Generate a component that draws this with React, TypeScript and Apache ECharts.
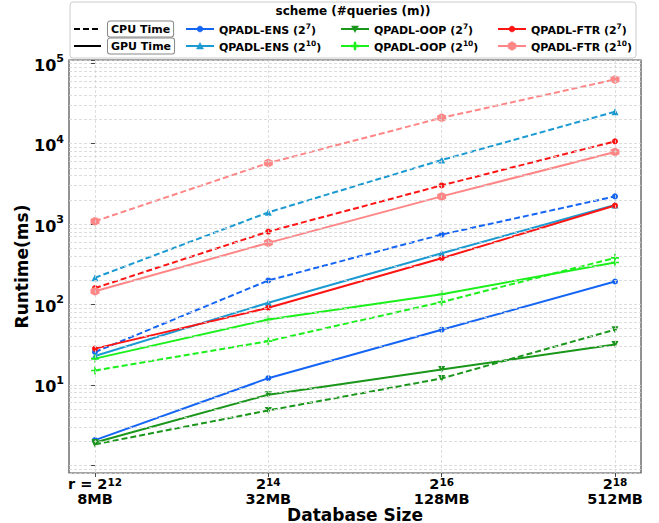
import React, { useEffect, useRef } from 'react';
import * as echarts from 'echarts';

const FONT = 'DejaVu Sans';

// x categories
const sizeLabels = ['8MB', '32MB', '128MB', '512MB'];
const rowExps = [12, 14, 16, 18];
const xPos = [0, 1, 2, 3];

// schemes
const schemeNames = ['QPADL-ENS', 'QPADL-ENS', 'QPADL-OOP', 'QPADL-OOP', 'QPADL-FTR', 'QPADL-FTR'];
const queryExps = [7, 10, 7, 10, 7, 10];
const schemeColors = ['#1565f5', '#1b9ad2', '#1a961a', '#1cf01c', '#ff1414', '#ff8686'];
const schemeMarkers = ['circle', 'triangle', 'down', 'plus', 'circle', 'hexagon'];

// CPU time (dashed)
const cpuEns7 = [25.6, 199, 741, 2210];
const cpuEns10 = [215, 1400, 6270, 25000];
const cpuOop7 = [1.82, 4.8, 12, 48.6];
const cpuOop10 = [15.1, 35, 107, 380];
const cpuFtr7 = [160, 807, 3030, 10700];
const cpuFtr10 = [1085, 5750, 21000, 63000];

// GPU time (solid)
const gpuEns7 = [2.05, 12.1, 48.5, 193];
const gpuEns10 = [22.8, 105, 434, 1730];
const gpuOop7 = [1.92, 7.55, 15.5, 31.8];
const gpuOop10 = [21.2, 65, 134, 333];
const gpuFtr7 = [28.2, 91, 376, 1700];
const gpuFtr10 = [146, 584, 2210, 7890];

const cpuAll = [cpuEns7, cpuEns10, cpuOop7, cpuOop10, cpuFtr7, cpuFtr10];
const gpuAll = [gpuEns7, gpuEns10, gpuOop7, gpuOop10, gpuFtr7, gpuFtr10];

const symbolFor = (m: string): any => {
  switch (m) {
    case 'circle':
      return { symbol: 'circle', symbolSize: 6 };
    case 'triangle':
      return { symbol: 'triangle', symbolSize: 7 };
    case 'down':
      return { symbol: 'triangle', symbolSize: 7, symbolRotate: 180 };
    case 'plus':
      return { symbol: 'path://M-1,-5 L1,-5 L1,-1 L5,-1 L5,1 L1,1 L1,5 L-1,5 L-1,1 L-5,1 L-5,-1 L-1,-1 Z', symbolSize: 8 };
    case 'hexagon':
      return { symbol: 'path://M0,-1 L0.866,-0.5 L0.866,0.5 L0,1 L-0.866,0.5 L-0.866,-0.5 Z', symbolSize: 9 };
  }
  return { symbol: 'circle', symbolSize: 6 };
};

const legendMarker = (m: string, cx: number, cy: number, color: string): any => {
  const style = { fill: color, stroke: color, lineWidth: 0.5 };
  switch (m) {
    case 'circle':
      return { type: 'circle', shape: { cx, cy, r: 3 }, style };
    case 'triangle':
      return { type: 'polygon', shape: { points: [[cx, cy - 3.5], [cx + 3.5, cy + 3], [cx - 3.5, cy + 3]] }, style };
    case 'down':
      return { type: 'polygon', shape: { points: [[cx, cy + 3.5], [cx + 3.5, cy - 3], [cx - 3.5, cy - 3]] }, style };
    case 'plus':
      return {
        type: 'polygon',
        shape: {
          points: [[cx - 1, cy - 4], [cx + 1, cy - 4], [cx + 1, cy - 1], [cx + 4, cy - 1], [cx + 4, cy + 1], [cx + 1, cy + 1], [cx + 1, cy + 4], [cx - 1, cy + 4], [cx - 1, cy + 1], [cx - 4, cy + 1], [cx - 4, cy - 1], [cx - 1, cy - 1]],
        },
        style,
      };
    case 'hexagon':
      return {
        type: 'polygon',
        shape: { points: [[cx, cy - 4.5], [cx + 3.9, cy - 2.25], [cx + 3.9, cy + 2.25], [cx, cy + 4.5], [cx - 3.9, cy + 2.25], [cx - 3.9, cy - 2.25]] },
        style,
      };
  }
  return { type: 'circle', shape: { cx, cy, r: 3 }, style };
};

export default function App() {
  const ref = useRef<HTMLDivElement>(null);
  useEffect(() => {
    if (!ref.current) return;
    const chart = echarts.init(ref.current, null, { renderer: 'svg' });

    const gridColor = '#d4d4d4';
    const minorVals: number[] = [0.9];
    for (let k = 0; k <= 4; k++) for (let m = 2; m <= 9; m++) minorVals.push(m * Math.pow(10, k));

    const series: any[] = [];
    for (let i = 0; i < schemeNames.length; i++) {
      const sym = symbolFor(schemeMarkers[i]);
      series.push({
        type: 'line',
        name: `${schemeNames[i]} (2^${queryExps[i]}) CPU`,
        data: xPos.map((x, j) => [x, cpuAll[i][j]]),
        ...sym,
        itemStyle: { color: schemeColors[i] },
        lineStyle: { color: schemeColors[i], width: 2, type: [6, 3] },
        z: 3,
      });
      series.push({
        type: 'line',
        name: `${schemeNames[i]} (2^${queryExps[i]}) GPU`,
        data: xPos.map((x, j) => [x, gpuAll[i][j]]),
        ...sym,
        itemStyle: { color: schemeColors[i] },
        lineStyle: { color: schemeColors[i], width: 2, type: 'solid' },
        z: 3,
      });
    }
    series.push({
      type: 'line',
      name: 'grid',
      data: [],
      silent: true,
      z: 1,
      markLine: {
        silent: true,
        symbol: ['none', 'none'],
        label: { show: false },
        lineStyle: { color: gridColor, type: [3, 2], width: 0.8 },
        data: [...minorVals.map((v) => ({ yAxis: v })), ...xPos.map((x) => ({ xAxis: x }))],
      },
    });

    const graphics: any[] = [];
    graphics.push({
      type: 'rect',
      z: 100,
      shape: { x: 70, y: 2, width: 566, height: 56, r: 3 },
      style: { fill: 'rgba(255,255,255,0.85)', stroke: '#cccccc', lineWidth: 1 },
    });
    graphics.push({
      type: 'text',
      z: 101,
      x: 353,
      y: 11,
      style: { text: 'scheme (#queries (m))', font: `bold 12px "${FONT}"`, fill: '#000', align: 'center', verticalAlign: 'middle' },
    });
    const rowY = [29, 46];
    // CPU / GPU
    graphics.push({ type: 'line', z: 101, shape: { x1: 74, y1: rowY[0], x2: 101, y2: rowY[0] }, style: { stroke: '#000', lineWidth: 2, lineDash: [6, 3] } });
    graphics.push({ type: 'line', z: 101, shape: { x1: 74, y1: rowY[1], x2: 101, y2: rowY[1] }, style: { stroke: '#000', lineWidth: 2 } });
    ['CPU Time', 'GPU Time'].forEach((t, r) => {
      graphics.push({
        type: 'text',
        z: 101,
        x: 108,
        y: rowY[r],
        style: {
          text: t,
          font: `bold 11px "${FONT}"`,
          fill: '#000',
          align: 'left',
          verticalAlign: 'middle',
          padding: [2, 3, 2, 3],
          borderColor: '#888',
          borderWidth: 1,
          borderRadius: 2,
          backgroundColor: '#fff',
        },
      });
    });
    const colX = [186, 341, 498];
    for (let i = 0; i < schemeNames.length; i++) {
      const c = Math.floor(i / 2);
      const r = i % 2;
      const x0 = colX[c];
      const y = rowY[r];
      graphics.push({ type: 'line', z: 101, shape: { x1: x0, y1: y, x2: x0 + 28, y2: y }, style: { stroke: schemeColors[i], lineWidth: 2 } });
      graphics.push({ ...legendMarker(schemeMarkers[i], x0 + 14, y, schemeColors[i]), z: 102 });
      graphics.push({
        type: 'text',
        z: 101,
        x: x0 + 33,
        y,
        style: {
          text: `{b|${schemeNames[i]} (2}{s|${queryExps[i]}}{b|)}`,
          rich: {
            b: { font: `bold 11px "${FONT}"`, fill: '#000', lineHeight: 14, verticalAlign: 'bottom' },
            s: { font: `bold 7.5px "${FONT}"`, fill: '#000', lineHeight: 14, verticalAlign: 'top' },
          },
          align: 'left',
          verticalAlign: 'middle',
        },
      });
    }

    chart.setOption({
      animation: false,
      backgroundColor: '#fff',
      textStyle: { fontFamily: FONT },
      grid: {
        left: 69,
        right: 18,
        top: 60,
        bottom: 50,
        containLabel: false,
        outerBoundsMode: 'none',
        show: true,
        borderColor: '#4a4a4a',
        borderWidth: 1.2,
        backgroundColor: 'transparent',
      },
      xAxis: {
        type: 'value',
        min: -0.15,
        max: 3.15,
        name: 'Database Size',
        nameLocation: 'middle',
        nameGap: 33,
        nameMoveOverlap: false,
        nameTextStyle: { fontFamily: FONT, fontWeight: 'bold', fontSize: 17, color: '#000', verticalAlign: 'top', lineHeight: 17 },
        axisLine: { show: false },
        splitLine: { show: false },
        axisTick: { show: true, customValues: xPos, length: 4, lineStyle: { color: '#4a4a4a' } },
        axisLabel: {
          customValues: xPos,
          margin: 3,
          formatter: (v: number) => {
            const i = Math.round(v);
            const pre = i === 0 ? 'r = 2' : '2';
            return `{b|${pre}}{s|${rowExps[i]}}\n{b|${sizeLabels[i]}}`;
          },
          rich: {
            b: { fontFamily: FONT, fontWeight: 'bold', fontSize: 14.5, color: '#000', lineHeight: 15, verticalAlign: 'bottom' },
            s: { fontFamily: FONT, fontWeight: 'bold', fontSize: 10.5, color: '#000', lineHeight: 7, verticalAlign: 'top' },
          },
        },
      },
      yAxis: {
        type: 'log',
        logBase: 10,
        min: 0.8,
        max: 110000,
        name: 'Runtime(ms)',
        nameLocation: 'middle',
        nameGap: 39,
        nameMoveOverlap: false,
        nameRotate: 90,
        nameTextStyle: { fontFamily: FONT, fontWeight: 'bold', fontSize: 17, color: '#000' },
        axisLine: { show: false },
        axisTick: { show: true, length: 4, lineStyle: { color: '#4a4a4a' } },
        splitLine: { show: true, lineStyle: { color: gridColor, type: [3, 2], width: 0.8 } },
        axisLabel: {
          showMinLabel: false,
          showMaxLabel: true,
          margin: 5,
          formatter: (v: number) => {
            const l = Math.log10(v);
            const e = Math.round(l);
            if (Math.abs(l - e) > 0.01 || e === 0) return '';
            return `{b|10}{s|${e}}`;
          },
          rich: {
            b: { fontFamily: FONT, fontWeight: 'bold', fontSize: 16, color: '#000', lineHeight: 20, verticalAlign: 'bottom' },
            s: { fontFamily: FONT, fontWeight: 'bold', fontSize: 11, color: '#000', lineHeight: 20, verticalAlign: 'top' },
          },
        },
      },
      series,
      graphic: graphics,
    });
    return () => chart.dispose();
  }, []);
  return <div ref={ref} style={{ width: 659, height: 523, position: 'absolute', left: 0, top: 0 }} />;
}
